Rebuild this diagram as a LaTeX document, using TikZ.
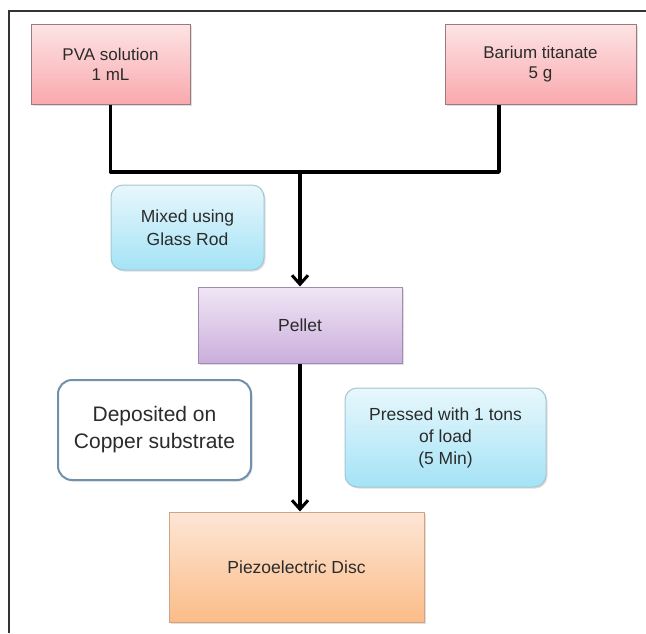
\documentclass[tikz,border=0pt]{standalone}
\usepackage{fontspec}
\setmainfont{Liberation Sans}
\usetikzlibrary{shadows,arrows.meta}
\definecolor{txt}{HTML}{2B2B2B}
\definecolor{framec}{HTML}{333333}
\definecolor{pinkd}{HTML}{9A7A7C}
\definecolor{pinkt}{HTML}{FDE3E4}
\definecolor{pinkb}{HTML}{F9A9AE}
\definecolor{cyand}{HTML}{A2C7D3}
\definecolor{cyant}{HTML}{E8F7FC}
\definecolor{cyanb}{HTML}{A4E3F6}
\definecolor{purpd}{HTML}{A08CAE}
\definecolor{purpt}{HTML}{F0E6F5}
\definecolor{purpb}{HTML}{CBAEDC}
\definecolor{whited}{HTML}{7090AC}
\definecolor{orand}{HTML}{D2A283}
\definecolor{orant}{HTML}{FDE6D6}
\definecolor{oranb}{HTML}{FBBC88}
\begin{document}
\begin{tikzpicture}[x=1pt,y=-1pt,
  every node/.style={text=txt},
  boxbase/.style={draw, line width=1pt, align=center, inner sep=2pt,
    drop shadow={shadow xshift=1.5pt, shadow yshift=-1.5pt, opacity=0.25}},
  pinkbox/.style={boxbase, draw=pinkd, top color=pinkt, bottom color=pinkb,
    font=\fontsize{17}{20}\selectfont},
  cyanbox/.style={boxbase, rounded corners=12pt, draw=cyand, top color=cyant, bottom color=cyanb},
  purplebox/.style={boxbase, draw=purpd, top color=purpt, bottom color=purpb,
    font=\fontsize{17.5}{21}\selectfont},
  whitebox/.style={boxbase, rounded corners=14pt, draw=whited, line width=2pt, fill=white,
    font=\fontsize{21}{27}\selectfont},
  orangebox/.style={boxbase, draw=orand, top color=orant, bottom color=oranb,
    font=\fontsize{17.5}{21}\selectfont},
  conn/.style={line width=3.5pt, draw=black, line join=round},
  arr/.style={conn, -{Straight Barb[length=9pt,width=16pt,line width=3pt]}},
  frameline/.style={line width=2pt, draw=framec}
]
\useasboundingbox (0,0) rectangle (646,633);
\draw[frameline] (9,633) -- (9,11) -- (646,11);

\node[pinkbox, minimum width=159pt, minimum height=80pt] (pva) at (110.5,64.5) {PVA solution\\1 mL};
\node[pinkbox, minimum width=191pt, minimum height=80pt] (bar) at (540.5,64.5) {Barium titanate\\5 g};
\node[cyanbox, minimum width=153pt, minimum height=85pt, font=\fontsize{17.5}{23}\selectfont] (mix) at (187.5,227.5) {Mixed using\\Glass Rod};
\node[purplebox, minimum width=204pt, minimum height=76pt] (pel) at (300,325) {Pellet};
\node[whitebox, minimum width=193pt, minimum height=100pt] (dep) at (154.5,430) {Deposited on\\Copper substrate};
\node[cyanbox, minimum width=201pt, minimum height=99pt, font=\fontsize{17.5}{22}\selectfont] (pre) at (445.5,437.5) {Pressed with 1 tons\\of load\\(5 Min)};
\node[orangebox, minimum width=255pt, minimum height=110pt] (pie) at (296.5,567) {Piezoelectric Disc};

\coordinate (j) at (300,172);
\draw[conn] (pva.south) |- (j);
\draw[conn] ([xshift=-41.5pt]bar.south) |- (j);
\draw[arr] (j) -- (pel.north);
\draw[arr] (pel.south) -- (pel.south |- pie.north);
\end{tikzpicture}
\end{document}
